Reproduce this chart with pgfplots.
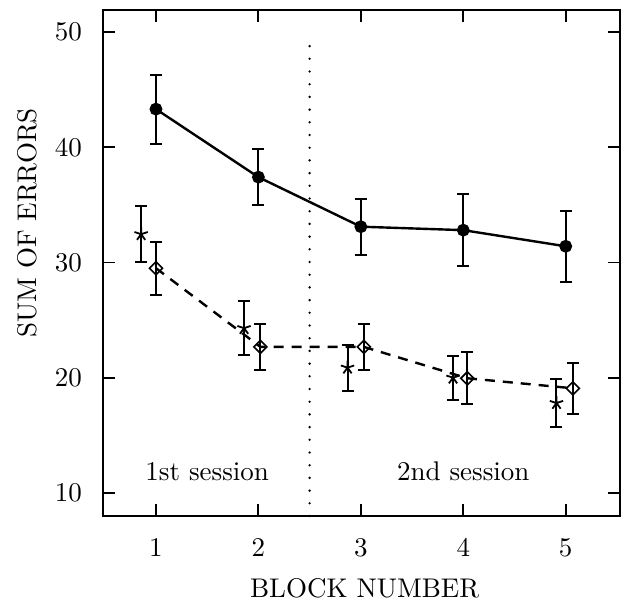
\documentclass[border=0pt]{standalone}
\usepackage{pgfplots}
\pgfplotsset{compat=1.18}
\font\figrm="[lmroman10-regular]:+tlig;" at 27bp

\begin{document}
\begin{tikzpicture}
\begin{axis}[
width=517bp,
height=506bp,
scale only axis,
xmin=0.483, xmax=5.53,
ymin=8, ymax=51.9,
xtick={1,2,3,4,5},
ytick={10,20,30,40,50},
font=\figrm,
/pgf/number format/assume math mode=true,
tick align=inside,
xtick pos=both,
ytick pos=both,
ticklabel pos=left,
major tick length=12bp,
tick style={line width=1.8bp, black},
axis line style={line width=1.8bp},
xticklabel style={anchor=base, yshift=-40bp, font=\figrm},
yticklabel style={anchor=east, inner sep=0pt, xshift=-21bp, font=\figrm},
xlabel={BLOCK NUMBER},
ylabel={SUM OF ERRORS},
xlabel style={at={(axis description cs:0.506,-0.162)}, anchor=base, font=\figrm},
ylabel style={at={(axis description cs:-0.147,0.579)}, anchor=center, font=\figrm},
clip=false,
error bars/error bar style={line width=2bp, solid},
error bars/error mark options={rotate=90, mark size=6bp, line width=2bp, solid},
]

% block means, group with filled circles
\addplot [line width=2.4bp, black, mark=*, mark size=5.2bp, mark options={solid},
  error bars/.cd, y dir=both, y explicit]
table [x=x, y=y, y error=e] {
x y e
1 43.3 3.0
2 37.4 2.45
3 33.1 2.43
4 32.8 3.1
5 31.4 3.1
};

% group with open diamonds
\addplot [line width=2.4bp, black, dash pattern=on 10bp off 8bp, mark=square, mark size=4.6bp,
  mark options={solid, rotate=45, line width=1.6bp},
  error bars/.cd, y dir=both, y explicit]
table [x=x, y=y, y error=e] {
x y e
1.00 29.5 2.3
2.02 22.67 2.0
3.03 22.67 2.0
4.04 19.95 2.27
5.07 19.08 2.2
};

% group with stars, no line
\addplot [only marks, black, mark=star, mark size=7bp, mark options={line width=1.8bp},
  error bars/.cd, y dir=both, y explicit]
table [x=x, y=y, y error=e] {
x y e
0.855 32.45 2.45
1.86 24.3 2.35
2.87 20.87 2.0
3.90 20.0 1.9
4.91 17.8 2.1
};

\draw [line width=2.6bp, line cap=round, dash pattern=on 0bp off 12.7bp]
  (axis cs:2.5,8) -- (axis cs:2.5,49.7);

\node [anchor=base, font=\figrm] at (axis cs:1.5,11.1) {1st session};
\node [anchor=base, font=\figrm] at (axis cs:4.0,11.1) {2nd session};

\coordinate (ll) at (rel axis cs:0,0);
\coordinate (ur) at (rel axis cs:1,1);
\end{axis}
\pgfresetboundingbox
\path ([xshift=-103bp,yshift=-87bp]ll) rectangle ([xshift=3bp,yshift=10bp]ur);
\end{tikzpicture}
\end{document}
